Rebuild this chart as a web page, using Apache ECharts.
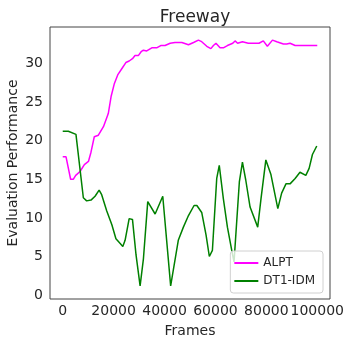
<!DOCTYPE html>
<html>
<head>
<meta charset="utf-8">
<script src="https://cdn.jsdelivr.net/npm/echarts@6/dist/echarts.min.js"></script>
<style>html,body{margin:0;padding:0;background:#fff}#c{width:351px;height:345px}</style>
</head>
<body>
<div id="c"></div>
<script>
var xTicks = [0, 20000, 40000, 60000, 80000, 100000];
var yTicks = [0, 5, 10, 15, 20, 25, 30];

var alptFrames = [0,1300,3100,4200,5100,6800,8500,10100,11100,12400,14000,16000,17900,19000,20300,21600,23200,24800,26100,27400,28400,29700,30800,31700,33000,35000,36900,38500,40200,42200,44100,46800,49400,51400,53300,54600,56600,58200,59200,60200,61800,63100,64700,66800,67700,68700,70600,72900,75600,77100,78800,80400,82400,84100,86700,88000,89300,91300,100000];
var alptValues = [17.9,17.9,15.0,15.0,15.5,16.0,16.9,17.3,18.5,20.5,20.7,21.8,23.5,25.7,27.4,28.5,29.3,30.1,30.3,30.6,31.0,31.0,31.5,31.7,31.6,32.0,32.0,32.3,32.3,32.6,32.7,32.7,32.4,32.7,33.0,32.8,32.2,31.9,32.3,32.6,32.0,32.0,32.3,32.6,32.9,32.6,32.8,32.6,32.6,32.6,32.9,32.2,33.0,32.8,32.5,32.5,32.6,32.3,32.3];

var dtFrames = [0,2200,5200,8100,9400,11100,12700,14300,15300,17300,19300,20900,22500,23600,24500,26100,27400,28800,30400,31700,33400,36300,39300,42400,45400,47400,49400,51600,52700,54600,56300,57600,58800,60500,61500,63100,64700,66400,67300,69400,70600,71900,73600,76600,77900,79800,81800,84500,86000,87700,89300,91300,93200,95500,96800,98100,99800];
var dtValues = [21.2,21.2,20.8,12.6,12.2,12.3,12.8,13.6,13.0,10.9,9.1,7.3,6.7,6.3,7.1,9.9,9.8,5.2,1.2,4.7,12.1,10.5,12.8,1.2,7.1,8.8,10.3,11.6,11.6,10.7,7.8,5.0,5.8,15.1,16.8,12.5,8.8,5.8,4.3,14.7,17.2,14.9,11.4,8.8,12.5,17.5,15.6,11.2,13.2,14.4,14.4,15.1,15.9,15.5,16.4,18.2,19.3];

function pairs(xs, ys) { return xs.map(function (x, i) { return [x, ys[i]]; }); }

var font = 'DejaVu Sans';
var txt = '#262626';
var chart = echarts.init(document.getElementById('c'), null, { renderer: 'canvas' });
chart.setOption({
  animation: false,
  backgroundColor: '#fff',
  textStyle: { fontFamily: font },
  title: {
    text: 'Freeway', left: 190, top: 4, textAlign: 'center',
    textStyle: { fontFamily: font, fontSize: 17, fontWeight: 'normal', color: txt }
  },
  grid: { left: 50, right: 21, top: 27, bottom: 46, show: true, borderColor: '#444', borderWidth: 1,
    backgroundColor: 'transparent', containLabel: false, outerBoundsMode: 'none' },
  xAxis: {
    type: 'value', min: -5000, max: 105000,
    name: 'Frames', nameLocation: 'middle', nameGap: 25, nameMoveOverlap: false,
    nameTextStyle: { fontFamily: font, fontSize: 14, color: txt },
    axisLine: { show: false }, axisTick: { show: false }, splitLine: { show: false },
    axisLabel: { customValues: xTicks, fontFamily: font, fontSize: 14, color: txt, margin: 5,
      formatter: function (v) { return String(v); } }
  },
  yAxis: {
    type: 'value', min: -0.5, max: 34.7,
    name: 'Evaluation Performance', nameLocation: 'middle', nameGap: 30, nameRotate: 90, nameMoveOverlap: false,
    nameTextStyle: { fontFamily: font, fontSize: 14, color: txt },
    axisLine: { show: false }, axisTick: { show: false }, splitLine: { show: false },
    axisLabel: { customValues: yTicks, fontFamily: font, fontSize: 14, color: txt, margin: 7,
      formatter: function (v) { return String(v); } }
  },
  legend: {
    orient: 'vertical', right: 28, bottom: 52,
    backgroundColor: 'rgba(255,255,255,0.8)', borderColor: '#d0d0d0', borderWidth: 1, borderRadius: 3,
    padding: [6, 8, 6, 4], itemGap: 6, itemWidth: 24, itemHeight: 2,
    textStyle: { fontFamily: font, fontSize: 12, color: txt },
    data: [{ name: 'ALPT', icon: 'rect' }, { name: 'DT1-IDM', icon: 'rect' }]
  },
  series: [
    { name: 'ALPT', type: 'line', data: pairs(alptFrames, alptValues), showSymbol: false, symbol: 'none',
      lineStyle: { color: '#ff00ff', width: 1.5 }, itemStyle: { color: '#ff00ff' } },
    { name: 'DT1-IDM', type: 'line', data: pairs(dtFrames, dtValues), showSymbol: false, symbol: 'none',
      lineStyle: { color: '#008000', width: 1.5 }, itemStyle: { color: '#008000' } }
  ]
});
</script>
</body>
</html>
